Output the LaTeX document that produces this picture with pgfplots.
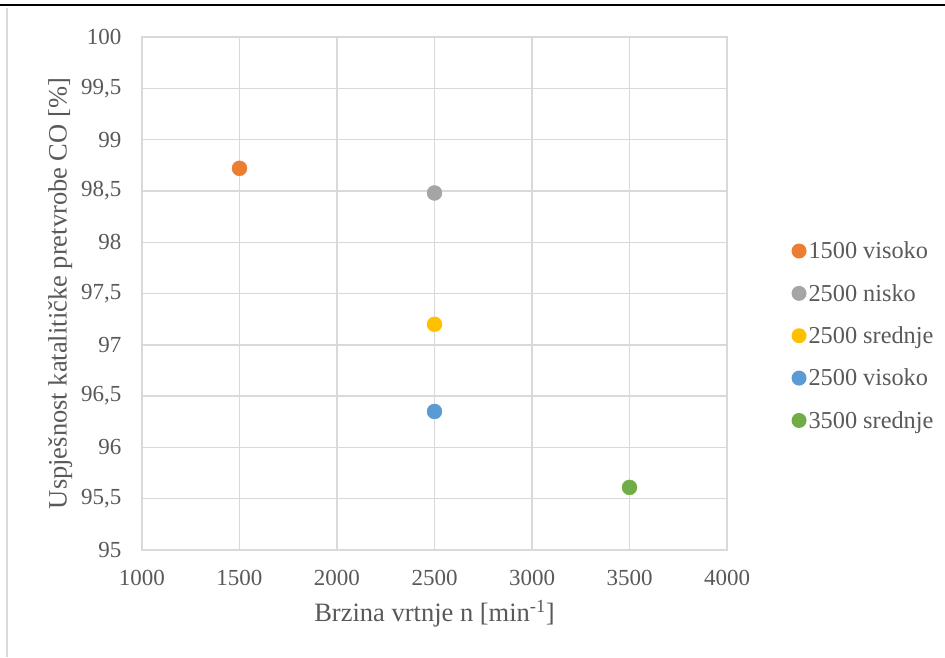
\documentclass[border=0pt]{standalone}
\usepackage{fontspec}
\setmainfont{Liberation Serif}
\usepackage{pgfplots}
\pgfplotsset{compat=1.18}
\definecolor{cOr}{HTML}{ED7D31}
\definecolor{cGr}{HTML}{A5A5A5}
\definecolor{cYe}{HTML}{FFC000}
\definecolor{cBl}{HTML}{5B9BD5}
\definecolor{cGn}{HTML}{70AD47}
\definecolor{gridc}{HTML}{D9D9D9}
\definecolor{txt}{HTML}{595959}
\begin{document}
\begin{tikzpicture}
\path[use as bounding box] (-142pt,-107pt) rectangle (803pt,550pt);
\draw[black, line width=1.6pt] (-142pt,545pt) -- (803pt,545pt);
\draw[gridc, line width=1.5pt] (-135pt,542pt) -- (-135pt,-107pt);
\begin{axis}[
  at={(0pt,0pt)}, anchor=south west,
  scale only axis, width=585pt, height=513pt,
  xmin=1000, xmax=4000, ymin=95, ymax=100,
  xtick distance=500, ytick distance=0.5,
  grid=major, major grid style={gridc, line width=1.4pt},
  axis line style={gridc, line width=1.4pt},
  major tick length=0pt,
  tick label style={font=\fontsize{23}{26}\selectfont, text=txt},
  /pgf/number format/assume math mode=true,
  /pgf/number format/use comma,
  /pgf/number format/1000 sep={},
  xticklabel={\pgfmathprintnumber{\tick}},
  yticklabel={\pgfmathprintnumber{\tick}},
  xticklabel style={yshift=-17pt},
  yticklabel style={xshift=-17pt},
  xlabel={Brzina vrtnje n [min\textsuperscript{-1}]},
  ylabel={Uspješnost katalitičke pretvrobe CO [\%]},
  label style={font=\fontsize{26.5}{30}\selectfont, text=txt},
  xlabel style={yshift=-7pt},
  ylabel style={yshift=2pt},
  legend style={at={(1.110,0.605)}, anchor=north west, draw=none, fill=none,
    font=\fontsize{24.3}{28}\selectfont, text=txt, row sep=20pt,
    inner sep=0pt},
  legend cell align=left,
  legend image code/.code={\fill[#1] (0.1em,0) circle (7.5pt);},
  clip=false,
]
\addplot[only marks, mark=*, mark size=7.5pt, color=cOr, draw=none, fill=cOr] coordinates {(1500,98.72)};
\addlegendentry{1500 visoko}
\addplot[only marks, mark=*, mark size=7.5pt, color=cGr, draw=none, fill=cGr] coordinates {(2500,98.48)};
\addlegendentry{2500 nisko}
\addplot[only marks, mark=*, mark size=7.5pt, color=cYe, draw=none, fill=cYe] coordinates {(2500,97.20)};
\addlegendentry{2500 srednje}
\addplot[only marks, mark=*, mark size=7.5pt, color=cBl, draw=none, fill=cBl] coordinates {(2500,96.35)};
\addlegendentry{2500 visoko}
\addplot[only marks, mark=*, mark size=7.5pt, color=cGn, draw=none, fill=cGn] coordinates {(3500,95.61)};
\addlegendentry{3500 srednje}
\end{axis}
\end{tikzpicture}
\end{document}
